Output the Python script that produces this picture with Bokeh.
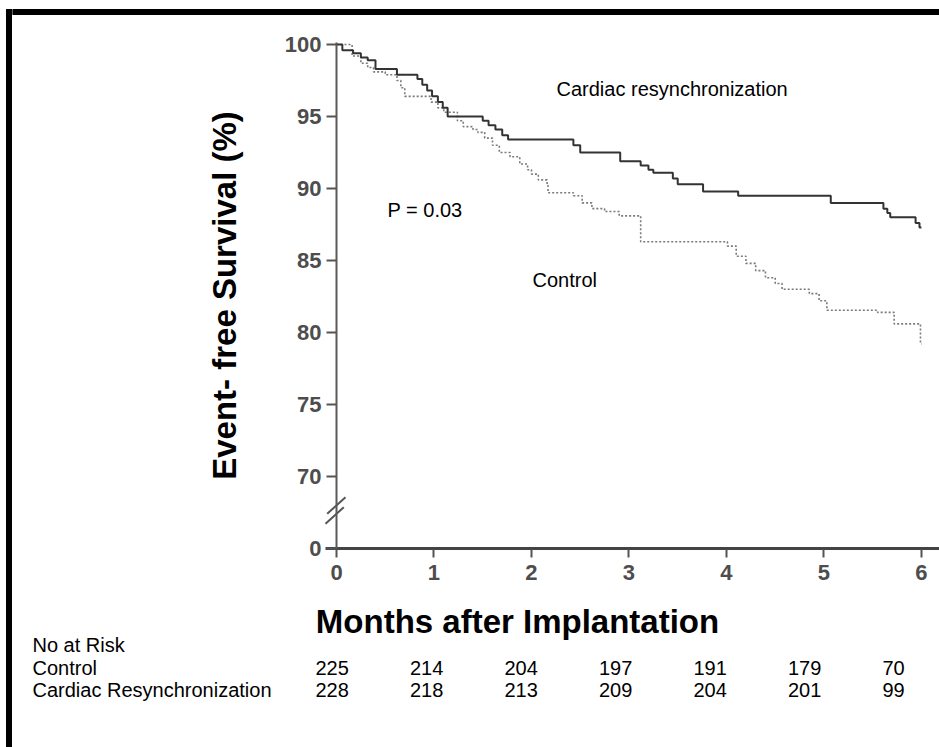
from bokeh.plotting import figure
from bokeh.models import Range1d, FixedTicker, Label
from bokeh.layouts import row, column
from bokeh.core.properties import value
from bokeh.embed import file_html
from bokeh.resources import INLINE

# ---------------- data ----------------
crt_time = [0, 0.06, 0.17, 0.25, 0.32, 0.40, 0.62, 0.83, 0.88, 0.93, 0.98, 1.04, 1.09, 1.14,
            1.50, 1.56, 1.63, 1.70, 1.76, 2.43, 2.50, 2.91, 3.12, 3.20, 3.25, 3.45, 3.50,
            3.76, 4.12, 5.07, 5.61, 5.65, 5.68, 5.94, 5.98, 6.0]
crt_surv = [100, 99.6, 99.4, 99.1, 98.9, 98.3, 97.9, 97.6, 97.2, 96.8, 96.4, 96.0, 95.6, 95.0,
            94.7, 94.4, 94.1, 93.7, 93.4, 93.0, 92.5, 91.9, 91.6, 91.3, 91.1, 90.7, 90.3,
            89.8, 89.5, 89.0, 88.6, 88.3, 88.0, 87.6, 87.3, 87.3]

ctl_time = [0, 0.16, 0.25, 0.32, 0.38, 0.50, 0.62, 0.66, 0.70, 0.97, 1.04, 1.10, 1.24, 1.30,
            1.40, 1.45, 1.52, 1.60, 1.67, 1.78, 1.88, 1.96, 2.00, 2.07, 2.16, 2.17, 2.43,
            2.52, 2.62, 2.75, 2.90, 3.12, 4.01, 4.10, 4.20, 4.30, 4.40, 4.50, 4.57, 4.85,
            4.95, 5.03, 5.55, 5.72, 5.99, 6.0]
ctl_surv = [100, 99.2, 98.7, 98.4, 98.1, 97.9, 97.5, 97.0, 96.4, 96.0, 95.6, 95.3, 94.7, 94.3,
            94.1, 93.9, 93.5, 93.0, 92.5, 92.2, 91.7, 91.3, 91.0, 90.6, 90.2, 89.7, 89.5,
            89.0, 88.6, 88.4, 88.1, 86.3, 86.0, 85.3, 84.8, 84.3, 83.8, 83.4, 83.0, 82.7,
            82.2, 81.55, 81.4, 80.6, 79.2, 79.2]

x_ticks = [0, 1, 2, 3, 4, 5, 6]
y_ticks = [65, 70, 75, 80, 85, 90, 95, 100]
y_tick_labels = ["0", "70", "75", "80", "85", "90", "95", "100"]
Y_BREAK = 65            # axis position that carries the "0" label (broken axis)

risk_header = "No at Risk"
risk_groups = ["Control", "Cardiac Resynchronization"]
risk_control = [225, 214, 204, 197, 191, 179, 70]
risk_crt = [228, 218, 213, 209, 204, 201, 99]

# ---------------- page layout (pixels) ----------------
W, H = 939, 747
STRIP_W = 12            # left strip holding the frame's left border
TOP_H = 15              # top strip holding the frame's top border
MAIN_H = 585            # main chart height
TABLE_H = H - TOP_H - MAIN_H
AX0 = 336               # page x of month 0 (y axis)
AXY = 548               # page y of the x axis
XLINE0 = 325            # page x where the x-axis line starts
YLINE1 = 42             # page y where the y-axis line ends
FL, FR, FT, FB = 190, 939, 15, 557      # main frame edges (page px)
PX_PER_MONTH = 97.49
PX_PER_UNIT_Y = 14.4

def mx(px):
    return (px - AX0) / PX_PER_MONTH

def vy(py):
    return Y_BREAK + (AXY - py) / PX_PER_UNIT_Y

X0, X1 = mx(FL), mx(FR)
Y0, Y1 = vy(FB), vy(FT)
FONT = "Liberation Sans"

def blank(w, h, xr, yr):
    f = figure(width=w, height=h, output_backend="svg", toolbar_location=None,
               x_range=Range1d(*xr), y_range=Range1d(*yr), min_border=0,
               x_axis_location=None, y_axis_location=None)
    f.outline_line_color = None
    f.grid.visible = False
    f.background_fill_color = "white"
    f.border_fill_color = "white"
    f.frame_align = False
    return f

# ---------------- frame strips ----------------
p_left = blank(STRIP_W, H, (0, STRIP_W), (H, 0))
p_left.quad(left=[6], right=[11], top=[9], bottom=[H], color="black")
p_left.quad(left=[6], right=[STRIP_W], top=[9], bottom=[14], color="black")

p_top = blank(W - STRIP_W, TOP_H, (STRIP_W, W), (TOP_H, 0))
p_top.quad(left=[STRIP_W], right=[W], top=[9], bottom=[14], color="black")

# ---------------- main chart ----------------
p = figure(width=W - STRIP_W, height=MAIN_H, output_backend="svg", toolbar_location=None,
           x_range=Range1d(X0, X1), y_range=Range1d(Y0, Y1),
           min_border_left=FL - STRIP_W, min_border_right=W - FR,
           min_border_top=FT - TOP_H, min_border_bottom=TOP_H + MAIN_H - FB)
p.frame_align = False
p.outline_line_color = None
p.grid.visible = False
p.background_fill_color = "white"
p.border_fill_color = "white"

p.xaxis.ticker = FixedTicker(ticks=x_ticks)
p.yaxis.ticker = FixedTicker(ticks=y_ticks)
p.yaxis.major_label_overrides = {t: l for t, l in zip(y_ticks, y_tick_labels)}
p.yaxis.fixed_location = 0
p.yaxis.bounds = (Y_BREAK, vy(YLINE1))
for ax in (p.xaxis[0], p.yaxis[0]):
    ax.minor_tick_line_color = None
    ax.major_label_text_font = FONT
    ax.major_label_text_font_style = "bold"
    ax.major_label_text_font_size = "22px"
    ax.major_label_text_color = "#4d4d4d"
    ax.major_tick_line_color = "#555555"
    ax.major_tick_line_width = 2

# x axis sits at the frame bottom; its ticks reach up to the drawn axis rule
p.xaxis.axis_line_color = None
p.xaxis.major_tick_in = FB - AXY - 1
p.xaxis.major_tick_out = 0
p.xaxis.major_label_standoff = 7
p.segment(x0=[mx(XLINE0)], y0=[Y_BREAK], x1=[X1], y1=[Y_BREAK],
          line_color="#444444", line_width=3)

p.yaxis.axis_line_width = 2
p.yaxis.axis_line_color = "#5a5a5a"
p.yaxis.major_tick_in = 0
p.yaxis.major_tick_out = 10
p.yaxis.major_label_standoff = 5
p.yaxis.axis_label = "Event- free Survival (%)"
p.yaxis.axis_label_text_font = FONT
p.yaxis.axis_label_text_font_style = "bold"
p.yaxis.axis_label_text_font_size = "33px"
p.yaxis.axis_label_text_color = "black"
p.yaxis.axis_label_standoff = 39

# curves
p.step(ctl_time, ctl_surv, mode="after", line_color="#7a7a7a", line_width=1.6,
       line_dash="2 2")
p.step(crt_time, crt_surv, mode="after", line_color="#333333", line_width=2)

# axis break marks
brk = [(326.7, 513.3, 345.0, 496.7), (325.0, 523.3, 343.3, 506.7)]
p.segment(x0=[mx(b[0]) for b in brk], y0=[vy(b[1]) for b in brk],
          x1=[mx(b[2]) for b in brk], y1=[vy(b[3]) for b in brk],
          line_color="#555555", line_width=2)

def add_label(px, py, txt):
    p.add_layout(Label(x=mx(px), y=vy(py), text=txt, text_font=FONT,
                       text_font_size="20px", text_color="black",
                       text_align="left", text_baseline="middle"))

add_label(556, 88, "Cardiac resynchronization")
add_label(387, 209, "P = 0.03")
add_label(532, 279, "Control")

# ---------------- x title + number-at-risk table ----------------
T0 = TOP_H + MAIN_H
pt = blank(W - STRIP_W, TABLE_H, (STRIP_W, W), (H, T0))
pt.text(x=[517], y=[621], text=["Months after Implantation"], text_font=value(FONT),
        text_font_size=value("33px"), text_font_style="bold", text_color="black",
        text_align="center", text_baseline="middle")

LABEL_X = 32
COL_X0, COL_DX = 315, 94.5
HEADER_Y = 644
row_y = [667, 689]
pt.text(x=[LABEL_X], y=[HEADER_Y], text=[risk_header], text_font=value(FONT),
        text_font_size=value("20px"), text_color="black", text_align="left",
        text_baseline="middle")
for gname, ry, vals in zip(risk_groups, row_y, [risk_control, risk_crt]):
    xs = [LABEL_X] + [COL_X0 + i * COL_DX for i in range(len(vals))]
    txt = [gname] + [str(v) for v in vals]
    pt.text(x=xs, y=[ry] * len(xs), text=txt, text_font=value(FONT),
            text_font_size=value("20px"), text_color="black", text_align="left",
            text_baseline="middle")

layout = row(p_left, column(p_top, p, pt, spacing=0), spacing=0)
open("out.html", "w").write(file_html(layout, INLINE))
